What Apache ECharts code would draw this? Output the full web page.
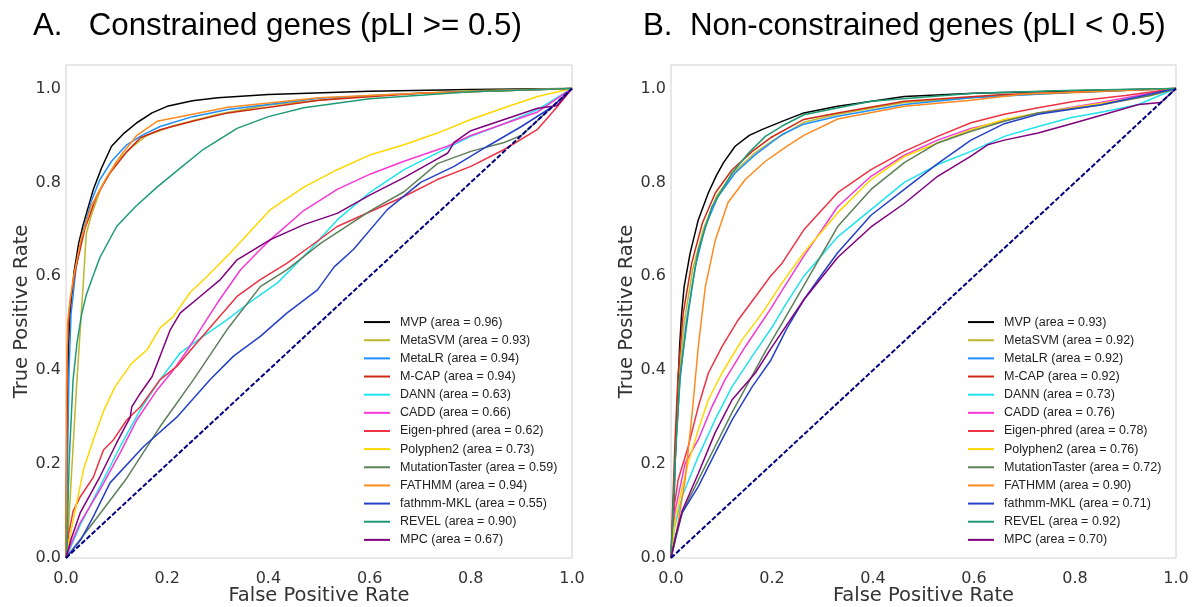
<!DOCTYPE html>
<html>
<head>
<meta charset="utf-8">
<script src="https://cdn.jsdelivr.net/npm/echarts@6/dist/echarts.min.js"></script>
<style>
html,body{margin:0;padding:0;background:#fff;}
#chart{width:1195px;height:607px;}
</style>
</head>
<body>
<div id="chart"></div>
<script>
// ---------- DATA ----------
const methods = ["MVP","MetaSVM","MetaLR","M-CAP","DANN","CADD","Eigen-phred","Polyphen2","MutationTaster","FATHMM","fathmm-MKL","REVEL","MPC"];
const areaA = ["0.96","0.93","0.94","0.94","0.63","0.66","0.62","0.73","0.59","0.94","0.55","0.90","0.67"];
const areaB = ["0.93","0.92","0.92","0.92","0.73","0.76","0.78","0.76","0.72","0.90","0.71","0.92","0.70"];
const titleA = "A.   Constrained genes (pLI >= 0.5)";
const titleB = "B.  Non-constrained genes (pLI < 0.5)";
const xTitle = "False Positive Rate";
const yTitle = "True Positive Rate";
const diagonal = [[0,0],[1,1]];

// Panel A curves [FPR, TPR]
const A_MVP = [[0,0],[0.002,0.3],[0.005,0.45],[0.008,0.52],[0.016,0.61],[0.025,0.67],[0.034,0.71],[0.054,0.785],[0.07,0.83],[0.09,0.877],[0.115,0.905],[0.14,0.927],[0.17,0.948],[0.2,0.962],[0.25,0.974],[0.3,0.98],[0.4,0.987],[0.6,0.994],[0.8,0.998],[1,1]];
const A_MetaSVM = [[0,0],[0.003,0.03],[0.02,0.35],[0.035,0.6],[0.04,0.69],[0.05,0.73],[0.07,0.79],[0.1,0.845],[0.13,0.875],[0.16,0.9],[0.21,0.92],[0.3,0.945],[0.4,0.965],[0.6,0.985],[0.8,0.995],[1,1]];
const A_MetaLR = [[0,0],[0.003,0.2],[0.006,0.4],[0.01,0.52],[0.02,0.62],[0.035,0.7],[0.05,0.76],[0.067,0.806],[0.09,0.845],[0.12,0.88],[0.15,0.9],[0.186,0.919],[0.25,0.94],[0.32,0.955],[0.5,0.979],[0.7,0.99],[1,1]];
const A_MCAP = [[0,0],[0.001,0.2],[0.003,0.45],[0.006,0.52],[0.011,0.565],[0.02,0.62],[0.037,0.7],[0.06,0.77],[0.087,0.82],[0.12,0.865],[0.147,0.895],[0.186,0.912],[0.25,0.93],[0.32,0.948],[0.5,0.975],[0.7,0.99],[1,1]];
const A_DANN = [[0,0],[0.01,0.025],[0.028,0.07],[0.067,0.152],[0.107,0.237],[0.147,0.316],[0.186,0.38],[0.226,0.437],[0.271,0.472],[0.318,0.507],[0.37,0.55],[0.418,0.586],[0.483,0.657],[0.536,0.72],[0.602,0.78],[0.668,0.827],[0.734,0.863],[0.8,0.898],[0.866,0.925],[0.932,0.955],[1,1]];
const A_CADD = [[0,0],[0.01,0.03],[0.028,0.075],[0.067,0.145],[0.107,0.224],[0.14,0.294],[0.18,0.358],[0.212,0.4],[0.24,0.443],[0.265,0.486],[0.299,0.543],[0.345,0.614],[0.384,0.657],[0.404,0.678],[0.47,0.74],[0.536,0.785],[0.602,0.818],[0.668,0.845],[0.754,0.877],[0.8,0.9],[0.866,0.925],[0.932,0.95],[1,1]];
const A_Eigen = [[0,0],[0.005,0.05],[0.014,0.1],[0.028,0.13],[0.054,0.172],[0.074,0.23],[0.094,0.252],[0.12,0.294],[0.147,0.322],[0.186,0.38],[0.219,0.408],[0.252,0.45],[0.292,0.5],[0.338,0.557],[0.384,0.593],[0.437,0.628],[0.483,0.664],[0.536,0.706],[0.602,0.738],[0.668,0.77],[0.734,0.806],[0.8,0.834],[0.866,0.87],[0.932,0.913],[0.97,0.96],[1,1]];
const A_Poly = [[0,0],[0.005,0.03],[0.021,0.117],[0.035,0.19],[0.054,0.252],[0.075,0.315],[0.097,0.365],[0.13,0.415],[0.16,0.443],[0.186,0.49],[0.212,0.514],[0.245,0.565],[0.279,0.6],[0.325,0.65],[0.404,0.742],[0.47,0.79],[0.536,0.827],[0.602,0.859],[0.668,0.88],[0.734,0.905],[0.8,0.934],[0.866,0.959],[0.932,0.983],[1,1]];
const A_MT = [[0,0],[0.06,0.084],[0.12,0.17],[0.186,0.28],[0.252,0.38],[0.318,0.486],[0.384,0.578],[0.437,0.614],[0.503,0.67],[0.602,0.74],[0.668,0.78],[0.734,0.84],[0.8,0.866],[0.866,0.885],[0.9,0.9],[1,1]];
const A_FATHMM = [[0,0],[0.001,0.35],[0.003,0.5],[0.008,0.55],[0.015,0.6],[0.03,0.68],[0.05,0.75],[0.08,0.81],[0.11,0.86],[0.14,0.9],[0.18,0.93],[0.25,0.945],[0.32,0.96],[0.5,0.98],[0.7,0.99],[1,1]];
const A_fMKL = [[0,0],[0.03,0.04],[0.054,0.088],[0.087,0.16],[0.153,0.237],[0.219,0.3],[0.285,0.38],[0.331,0.43],[0.384,0.472],[0.437,0.522],[0.497,0.571],[0.53,0.62],[0.568,0.657],[0.635,0.742],[0.701,0.8],[0.767,0.834],[0.833,0.877],[0.9,0.919],[0.96,0.96],[1,1]];
const A_REVEL = [[0,0],[0.002,0.024],[0.006,0.2],[0.014,0.38],[0.022,0.46],[0.031,0.52],[0.04,0.56],[0.051,0.593],[0.067,0.64],[0.1,0.706],[0.137,0.748],[0.18,0.79],[0.222,0.827],[0.271,0.87],[0.338,0.915],[0.4,0.94],[0.47,0.959],[0.6,0.978],[0.8,0.993],[1,1]];
const A_MPC = [[0,0],[0.01,0.04],[0.028,0.096],[0.067,0.173],[0.1,0.245],[0.127,0.3],[0.13,0.322],[0.147,0.351],[0.17,0.386],[0.186,0.43],[0.206,0.486],[0.226,0.522],[0.265,0.557],[0.305,0.593],[0.338,0.635],[0.404,0.678],[0.47,0.71],[0.536,0.734],[0.602,0.774],[0.668,0.81],[0.734,0.85],[0.754,0.862],[0.767,0.885],[0.8,0.91],[0.866,0.934],[0.932,0.958],[0.97,0.963],[1,1]];

// Panel B curves [FPR, TPR]
const B_MVP = [[0,0],[0.004,0.03],[0.008,0.2],[0.012,0.31],[0.017,0.45],[0.021,0.52],[0.026,0.578],[0.038,0.65],[0.054,0.72],[0.074,0.778],[0.09,0.815],[0.104,0.842],[0.127,0.877],[0.155,0.9],[0.181,0.913],[0.22,0.93],[0.263,0.948],[0.33,0.962],[0.462,0.983],[0.6,0.99],[0.8,0.995],[1,1]];
const B_MetaSVM = [[0,0],[0.004,0.1],[0.01,0.25],[0.016,0.38],[0.026,0.5],[0.043,0.615],[0.064,0.7],[0.09,0.77],[0.123,0.82],[0.163,0.86],[0.2,0.888],[0.263,0.928],[0.33,0.945],[0.462,0.97],[0.66,0.985],[1,1]];
const B_MetaLR = [[0,0],[0.004,0.1],[0.01,0.25],[0.018,0.38],[0.03,0.5],[0.048,0.62],[0.068,0.706],[0.093,0.77],[0.127,0.82],[0.167,0.859],[0.22,0.902],[0.263,0.924],[0.33,0.941],[0.462,0.966],[0.594,0.98],[0.8,0.992],[1,1]];
const B_MCAP = [[0,0],[0.003,0.1],[0.008,0.25],[0.014,0.39],[0.024,0.52],[0.041,0.628],[0.062,0.713],[0.088,0.778],[0.121,0.827],[0.161,0.866],[0.197,0.895],[0.263,0.934],[0.33,0.948],[0.462,0.973],[0.66,0.987],[1,1]];
const B_DANN = [[0,0],[0.008,0.07],[0.022,0.131],[0.054,0.216],[0.087,0.294],[0.121,0.365],[0.161,0.43],[0.201,0.493],[0.227,0.54],[0.263,0.6],[0.33,0.684],[0.396,0.742],[0.462,0.8],[0.528,0.838],[0.594,0.866],[0.66,0.898],[0.727,0.919],[0.793,0.938],[0.859,0.951],[0.926,0.966],[1,1]];
const B_CADD = [[0,0],[0.008,0.1],[0.028,0.202],[0.054,0.252],[0.081,0.322],[0.107,0.38],[0.147,0.45],[0.197,0.53],[0.22,0.57],[0.263,0.643],[0.33,0.748],[0.396,0.813],[0.462,0.858],[0.528,0.89],[0.594,0.915],[0.727,0.948],[0.85,0.97],[1,1]];
const B_Eigen = [[0,0],[0.005,0.1],[0.014,0.166],[0.034,0.237],[0.054,0.322],[0.074,0.394],[0.101,0.45],[0.133,0.507],[0.173,0.565],[0.197,0.6],[0.22,0.628],[0.263,0.699],[0.33,0.778],[0.396,0.827],[0.462,0.866],[0.528,0.898],[0.594,0.927],[0.66,0.945],[0.727,0.959],[0.8,0.973],[0.9,0.985],[1,1]];
const B_Poly = [[0,0],[0.008,0.08],[0.02,0.14],[0.034,0.202],[0.054,0.273],[0.074,0.337],[0.101,0.394],[0.141,0.465],[0.181,0.522],[0.22,0.586],[0.263,0.65],[0.33,0.735],[0.396,0.806],[0.462,0.855],[0.528,0.884],[0.594,0.912],[0.66,0.934],[0.727,0.948],[0.85,0.968],[0.95,0.985],[1,1]];
const B_MT = [[0,0],[0.022,0.096],[0.054,0.166],[0.087,0.237],[0.121,0.31],[0.154,0.375],[0.187,0.44],[0.22,0.5],[0.263,0.58],[0.296,0.642],[0.33,0.706],[0.396,0.785],[0.462,0.842],[0.528,0.884],[0.594,0.909],[0.66,0.93],[0.727,0.948],[0.85,0.965],[0.95,0.985],[1,1]];
const B_FATHMM = [[0,0],[0.01,0.05],[0.028,0.166],[0.042,0.31],[0.054,0.45],[0.068,0.578],[0.088,0.678],[0.113,0.757],[0.147,0.806],[0.187,0.845],[0.227,0.875],[0.263,0.9],[0.33,0.935],[0.462,0.962],[0.594,0.975],[0.7,0.988],[1,1]];
const B_fMKL = [[0,0],[0.01,0.05],[0.022,0.096],[0.054,0.152],[0.087,0.223],[0.121,0.294],[0.161,0.365],[0.197,0.42],[0.23,0.49],[0.263,0.55],[0.296,0.6],[0.33,0.65],[0.396,0.73],[0.462,0.785],[0.528,0.84],[0.594,0.89],[0.66,0.925],[0.727,0.945],[0.85,0.965],[1,1]];
const B_REVEL = [[0,0],[0.002,0.05],[0.008,0.2],[0.018,0.39],[0.034,0.52],[0.044,0.593],[0.054,0.655],[0.081,0.748],[0.121,0.82],[0.154,0.863],[0.187,0.898],[0.22,0.92],[0.263,0.944],[0.396,0.973],[0.6,0.99],[0.8,0.996],[1,1]];
const B_MPC = [[0,0],[0.01,0.05],[0.022,0.1],[0.054,0.18],[0.087,0.266],[0.121,0.337],[0.167,0.394],[0.197,0.445],[0.263,0.55],[0.33,0.64],[0.396,0.705],[0.462,0.755],[0.528,0.813],[0.594,0.856],[0.627,0.88],[0.66,0.89],[0.727,0.905],[0.793,0.925],[0.859,0.945],[0.926,0.966],[0.97,0.97],[1,1]];

const curvesA = [A_MVP,A_MetaSVM,A_MetaLR,A_MCAP,A_DANN,A_CADD,A_Eigen,A_Poly,A_MT,A_FATHMM,A_fMKL,A_REVEL,A_MPC];
const curvesB = [B_MVP,B_MetaSVM,B_MetaLR,B_MCAP,B_DANN,B_CADD,B_Eigen,B_Poly,B_MT,B_FATHMM,B_fMKL,B_REVEL,B_MPC];

// ---------- STYLE ----------
const colors = ["#000000","#bcb72e","#1e8fff","#cc2a14","#1fe3ee","#f538d6","#ee3344","#ffd700","#5c7f5a","#ff8a1f","#2541c8","#1f9a76","#800080"];
const tickFont = "DejaVu Sans";
const legendFont = "Liberation Sans";

const namesA = methods.map((m,i)=>m+" (area = "+areaA[i]+")");
const namesB = methods.map((m,i)=>m+" (area = "+areaB[i]+")");

function mkAxes(idx){
  const x = {
    gridIndex: idx, type:'value', min:0, max:1, interval:0.2,
    name: xTitle, nameLocation:'middle', nameGap:28, nameMoveOverlap:false,
    nameTextStyle:{fontFamily:tickFont, fontSize:19.5, color:'#333'},
    axisLine:{show:false}, axisTick:{show:false}, splitLine:{show:false},
    axisLabel:{fontFamily:tickFont, fontSize:16, color:'#333', margin:13, formatter:v=>v.toFixed(1)}
  };
  const y = {
    gridIndex: idx, type:'value', min:0, max:1.05, interval:0.2,
    name: yTitle, nameLocation:'middle', nameGap:32, nameRotate:90,
    nameTextStyle:{fontFamily:tickFont, fontSize:19.5, color:'#333'},
    axisLine:{show:false}, axisTick:{show:false}, splitLine:{show:false},
    axisLabel:{fontFamily:tickFont, fontSize:16, color:'#333', margin:5, showMaxLabel:false, formatter:v=>v.toFixed(1)}
  };
  return [x,y];
}
const axA = mkAxes(0), axB = mkAxes(1);

const series = [];
function addPanel(curves, names, idx){
  curves.forEach((c,i)=>{
    series.push({
      name:names[i], type:'line', xAxisIndex:idx, yAxisIndex:idx,
      data:c, showSymbol:false, symbol:'none', smooth:false,
      color:colors[i],
      lineStyle:{color:colors[i], width:1.5},
      itemStyle:{color:colors[i]},
      animation:false, silent:true
    });
  });
  series.push({
    name:'chance'+idx, type:'line', xAxisIndex:idx, yAxisIndex:idx,
    data:diagonal, showSymbol:false, symbol:'none', z:5,
    lineStyle:{color:'#000080', width:2, type:[5,2]},
    animation:false, silent:true
  });
}
addPanel(curvesA, namesA, 0);
addPanel(curvesB, namesB, 1);

function mkLegend(names, left, top){
  return {
    data:names, orient:'vertical', left:left, top:top, padding:0,
    icon:'rect', itemWidth:26, itemHeight:2, itemGap:0,
    selectedMode:false,
    textStyle:{fontFamily:legendFont, fontSize:12.5, color:'#222', lineHeight:18.15, padding:[0,0,0,5]}
  };
}

const titleStyle = {fontFamily:'Liberation Sans', fontSize:31.3, fontWeight:'normal', color:'#000'};
const option = {
  backgroundColor:'#fff',
  animation:false,
  title:[
    {text:titleA, left:33, top:11, padding:0, textStyle:titleStyle},
    {text:titleB, left:643, top:11, padding:0, textStyle:titleStyle}
  ],
  grid:[
    {left:66, top:65, width:506, height:493, containLabel:false, outerBoundsMode:'none', show:true, borderColor:'#d0d0d0', borderWidth:1, backgroundColor:'#fff'},
    {left:671, top:65, width:505, height:493, containLabel:false, outerBoundsMode:'none', show:true, borderColor:'#d0d0d0', borderWidth:1, backgroundColor:'#fff'}
  ],
  xAxis:[axA[0], axB[0]],
  yAxis:[axA[1], axB[1]],
  legend:[mkLegend(namesA, 364, 313), mkLegend(namesB, 968, 313)],
  series:series
};

const chart = echarts.init(document.getElementById('chart'), null, {renderer:'canvas'});
chart.setOption(option);
</script>
</body>
</html>
